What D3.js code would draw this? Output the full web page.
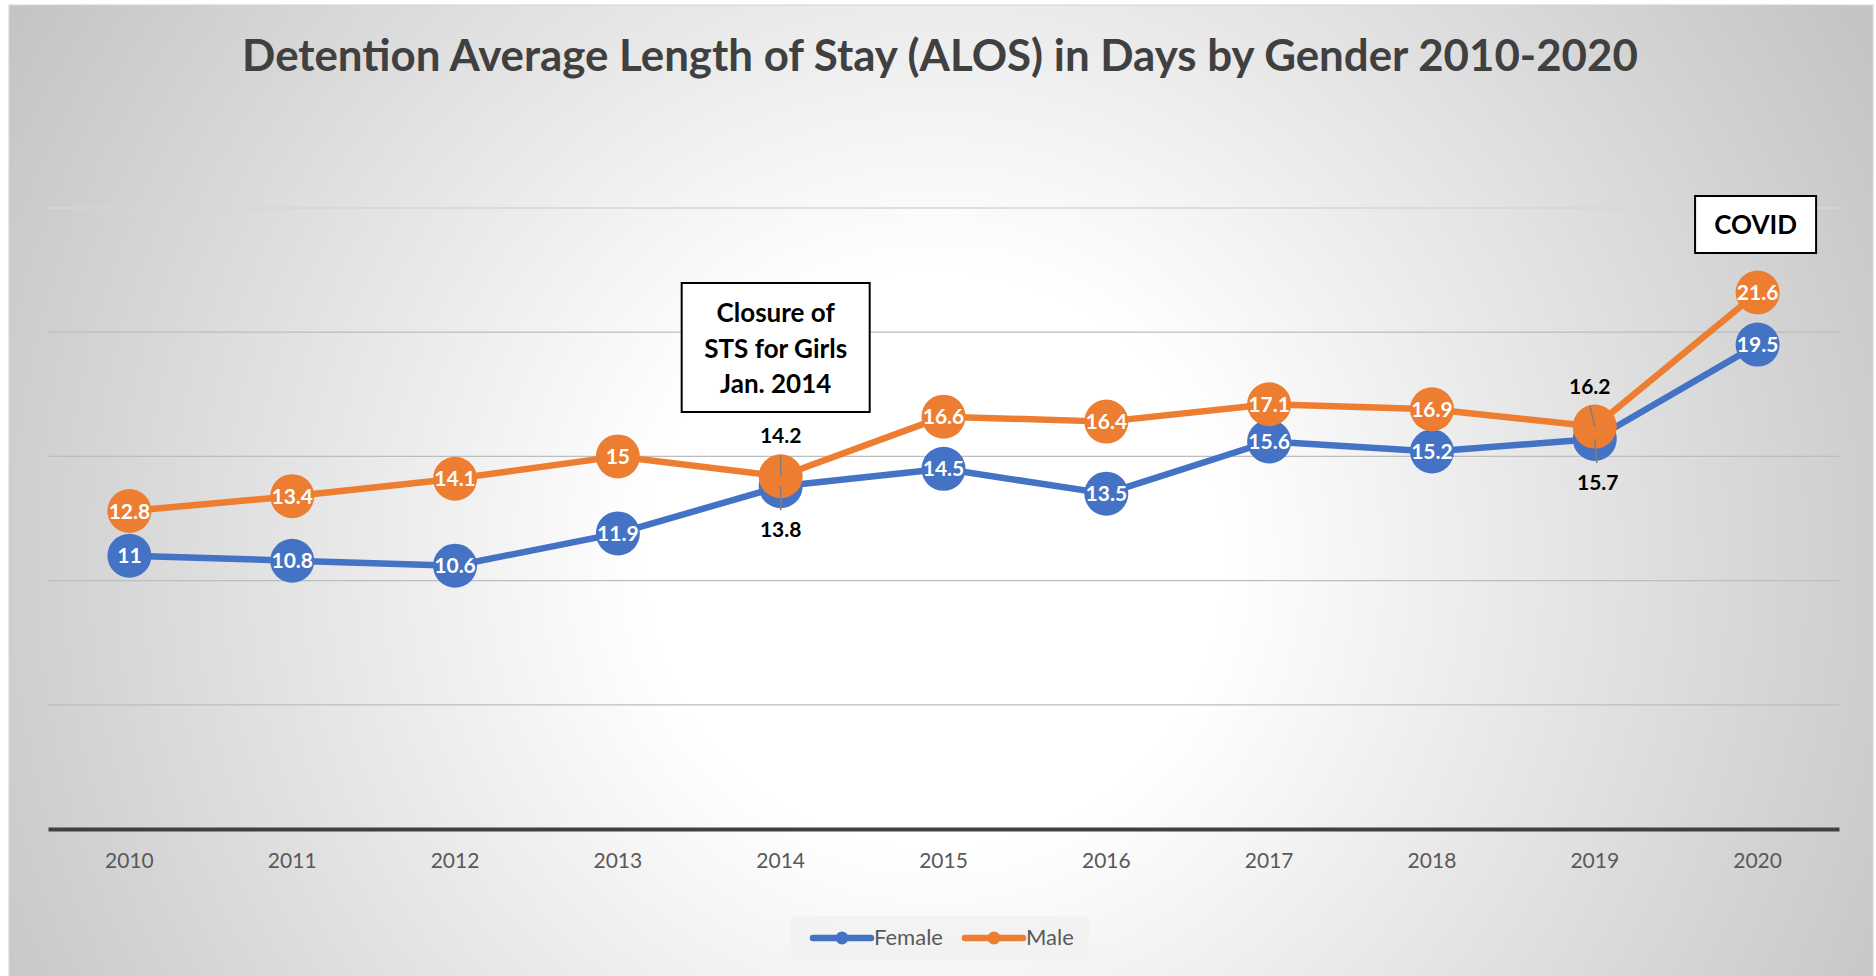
<!DOCTYPE html>
<html>
<head>
<meta charset="utf-8">
<script src="https://cdn.jsdelivr.net/npm/d3@7/dist/d3.min.js"></script>
<style>
  html, body { margin: 0; padding: 0; background: #ffffff; }
  svg { display: block; }
</style>
</head>
<body>
<svg id="chart" width="1876" height="976"></svg>
<script>
// ---------- data ----------
const years = ["2010","2011","2012","2013","2014","2015","2016","2017","2018","2019","2020"];
const female = [11, 10.8, 10.6, 11.9, 13.8, 14.5, 13.5, 15.6, 15.2, 15.7, 19.5];
const male   = [12.8, 13.4, 14.1, 15, 14.2, 16.6, 16.4, 17.1, 16.9, 16.2, 21.6];
const gridTicks = [5, 10, 15, 20, 25];
const seriesNames = ["Female", "Male"];
const outsideLabelYears = ["2014", "2019"];
const titleText = "Detention Average Length of Stay (ALOS) in Days by Gender 2010-2020";
const closureLines = ["Closure of", "STS for Girls", "Jan. 2014"];
const covidText = "COVID";

// ---------- setup ----------
const W = 1876, H = 976;
const FONT = "Lato, 'Open Sans', sans-serif";
const BLUE = "#4472C4", ORANGE = "#ED7D31";
const svg = d3.select("#chart");
const defs = svg.append("defs");

const grad = defs.append("radialGradient")
  .attr("id", "bg").attr("gradientUnits", "userSpaceOnUse")
  .attr("cx", 935).attr("cy", 560).attr("r", 1070);
grad.append("stop").attr("offset", "0%").attr("stop-color", "#ffffff");
grad.append("stop").attr("offset", "27%").attr("stop-color", "#ffffff");
grad.append("stop").attr("offset", "100%").attr("stop-color", "#c4c4c4");

svg.append("rect").attr("x", 9).attr("y", 5).attr("width", 1864).attr("height", 975)
  .attr("fill", "url(#bg)").attr("stroke", "#d4d4d4").attr("stroke-width", 1);

// scales
const x = d3.scaleBand().domain(years).range([48, 1839]).padding(0);
const cx = d => x(d) + x.bandwidth() / 2;
const y = d3.scaleLinear().domain([0, 25]).range([829, 208]);

// gridlines
svg.append("g").selectAll("line").data(gridTicks).join("line")
  .attr("x1", 48).attr("x2", 1839)
  .attr("y1", d => y(d)).attr("y2", d => y(d))
  .attr("stroke", d => d === 25 ? "#d6d6d6" : "#bdbdbd")
  .attr("stroke-width", 1.3);

// x axis
const xAxis = d3.axisBottom(x).tickSize(0).tickSizeOuter(0).tickPadding(24);
const gx = svg.append("g").attr("transform", `translate(0,${y(0)})`).call(xAxis);
gx.select(".domain").attr("stroke", "#404040").attr("stroke-width", 4);
gx.selectAll("text").attr("font-family", FONT).attr("font-size", 21)
  .attr("fill", "#595959");

// title
const title = svg.append("text").attr("x", 940).attr("y", 71)
  .attr("text-anchor", "middle").attr("font-family", FONT).attr("font-weight", 700)
  .attr("font-size", 44).attr("fill", "#404040").text(titleText);
const tw = title.node().getComputedTextLength();
title.attr("font-size", 44 * 1396 / tw);

// series
const series = [
  { name: seriesNames[0], values: female, color: BLUE },
  { name: seriesNames[1], values: male, color: ORANGE }
];
const line = d3.line().x((d, i) => cx(years[i])).y(d => y(d));

series.forEach(s => {
  const g = svg.append("g");
  g.append("path").datum(s.values).attr("d", line)
    .attr("fill", "none").attr("stroke", s.color).attr("stroke-width", 6.5)
    .attr("stroke-linejoin", "round").attr("stroke-linecap", "round");
  g.selectAll("circle").data(s.values).join("circle")
    .attr("cx", (d, i) => cx(years[i])).attr("cy", d => y(d)).attr("r", 22)
    .attr("fill", s.color);
});

// leader lines and outside labels
const leaders = svg.append("g");
outsideLabelYears.forEach(yr => {
  const i = years.indexOf(yr);
  const px = cx(yr);
  const dx = yr === "2019" ? -5 : 0;
  const mY = y(male[i]), fY = y(female[i]);
  const mBase = mY - 33, fBase = fY + 51;
  leaders.append("line").attr("x1", px + dx).attr("y1", mBase + 12)
    .attr("x2", px).attr("y2", mY).attr("stroke", "#7f7f7f").attr("stroke-width", 1.6);
  leaders.append("line").attr("x1", px).attr("y1", fY)
    .attr("x2", px + (yr === "2019" ? 2 : 0)).attr("y2", fBase - 27)
    .attr("stroke", "#7f7f7f").attr("stroke-width", 1.6);
  leaders.append("text").attr("x", px + dx).attr("y", mBase).attr("text-anchor", "middle")
    .attr("font-family", FONT).attr("font-weight", 700).attr("font-size", 21)
    .attr("fill", "#000").text(male[i]);
  leaders.append("text").attr("x", px + (yr === "2019" ? 3 : 0)).attr("y", fBase).attr("text-anchor", "middle")
    .attr("font-family", FONT).attr("font-weight", 700).attr("font-size", 21)
    .attr("fill", "#000").text(female[i]);
});

// inside labels
series.forEach(s => {
  svg.append("g").selectAll("text")
    .data(s.values.map((v, i) => ({ v, yr: years[i] })).filter(d => !outsideLabelYears.includes(d.yr)))
    .join("text")
    .attr("x", d => cx(d.yr)).attr("y", d => y(d.v)).attr("dy", "0.36em")
    .attr("text-anchor", "middle").attr("font-family", FONT).attr("font-weight", 700)
    .attr("font-size", 21).attr("fill", "#ffffff").text(d => d.v);
});

// annotation boxes
function box(centerX, top, w, h, lines, firstBase, step) {
  const g = svg.append("g");
  g.append("rect").attr("x", centerX - w / 2).attr("y", top).attr("width", w).attr("height", h)
    .attr("fill", "#ffffff").attr("stroke", "#000").attr("stroke-width", 2);
  lines.forEach((t, k) => {
    g.append("text").attr("x", centerX).attr("y", firstBase + k * step)
      .attr("text-anchor", "middle").attr("font-family", FONT).attr("font-weight", 700)
      .attr("font-size", 26).attr("fill", "#000").text(t);
  });
}
box(cx("2014") - 5, 283, 188, 129, closureLines, 322, 35.5);
box(cx("2020") - 2, 196, 121, 57, [covidText], 234, 0);

// legend
const lg = svg.append("g");
lg.append("rect").attr("x", 791).attr("y", 916).attr("width", 298).attr("height", 45)
  .attr("fill", "#eeeeee").attr("opacity", 0.55);
const legendItems = [
  { name: seriesNames[0], color: BLUE, x0: 813 },
  { name: seriesNames[1], color: ORANGE, x0: 965 }
];
legendItems.forEach(it => {
  lg.append("line").attr("x1", it.x0).attr("x2", it.x0 + 58).attr("y1", 938).attr("y2", 938)
    .attr("stroke", it.color).attr("stroke-width", 6.5).attr("stroke-linecap", "round");
  lg.append("circle").attr("cx", it.x0 + 29).attr("cy", 938).attr("r", 6.5).attr("fill", it.color);
  lg.append("text").attr("x", it.x0 + 61).attr("y", 945).attr("font-family", FONT)
    .attr("font-size", 22).attr("fill", "#595959").text(it.name);
});
</script>
</body>
</html>
